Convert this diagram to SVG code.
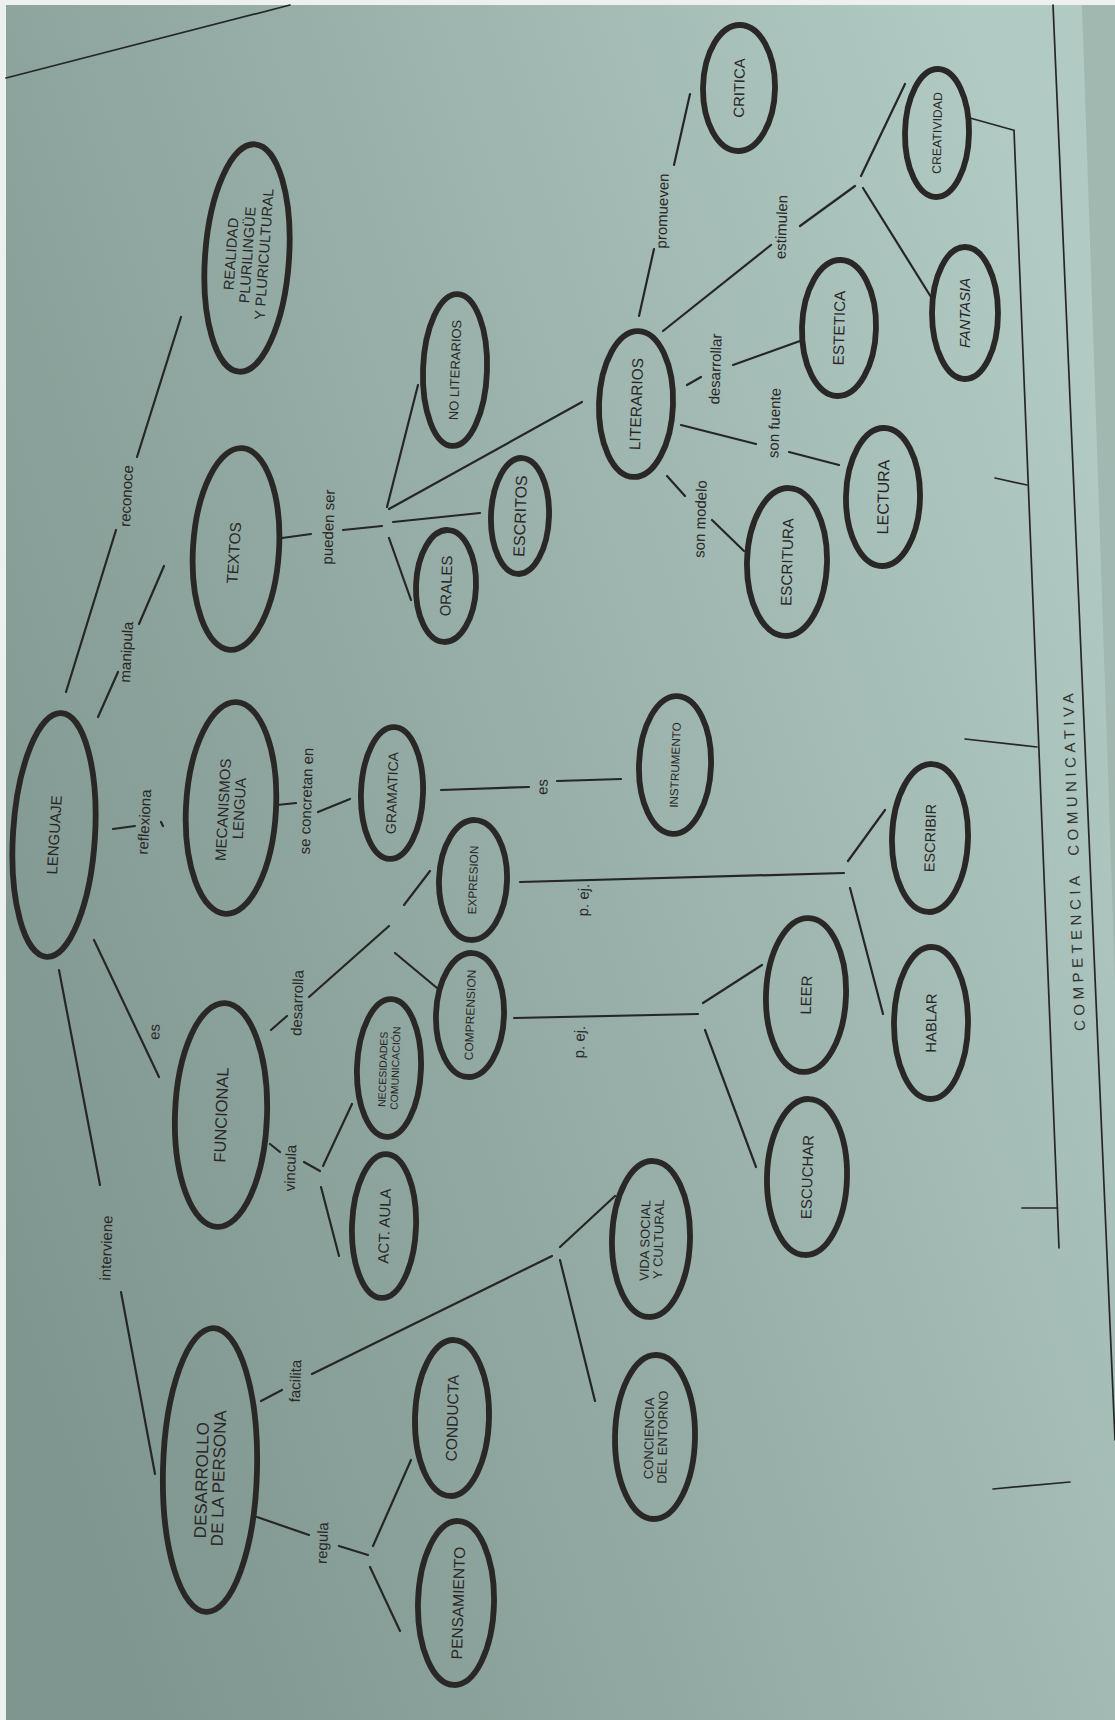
<svg xmlns="http://www.w3.org/2000/svg" width="1115" height="1720" viewBox="0 0 1115 1720">
  <defs>
    <linearGradient id="paper" x1="0" y1="0.75" x2="1" y2="0.25">
      <stop offset="0" stop-color="#7f958f"/>
      <stop offset="0.5" stop-color="#97afa8"/>
      <stop offset="1" stop-color="#b1cac3"/>
    </linearGradient>
    <style>
      .node ellipse { fill: none; stroke: #2a2727; stroke-width: 5.8; }
      .node text { font-family: "Liberation Sans", Arial, sans-serif; fill: #2a2727; text-anchor: middle; }
      .conn path { fill: none; stroke: #272626; stroke-width: 2.2; stroke-linecap: round; }
      .frame path { fill: none; stroke: #272626; stroke-width: 1.7; stroke-linecap: round; }
      .lbl text { font-family: "Liberation Sans", Arial, sans-serif; font-size: 15px; fill: #2a2727; text-anchor: middle; }
    </style>
  </defs>

  <!-- paper -->
  <rect x="0" y="0" width="1115" height="1720" fill="#eef0ef"/>
  <rect x="6" y="5" width="1109" height="1715" fill="url(#paper)"/>
  <polygon points="1082,5 1115,5 1115,980" fill="#9db3ad" opacity="0.8"/>

  <!-- page rules and bracket -->
  <g id="frame" class="frame">
    <path d="M6 78 L290 5"/>
    <path d="M1053 5 L1115 1440"/>
    <path d="M970 118 L1013 130"/>
    <path d="M1014 130 L1059 1248"/>
    <path d="M995 478 L1027 485"/>
    <path d="M965 739 L1037 747"/>
    <path d="M1022 1208 L1057 1208"/>
    <path d="M993 1489 L1070 1482"/>
  </g>

  <!-- connectors -->
  <g id="connectors" class="conn">
    <path d="M66 692 L116 530 M137 457 L181 317"/>
    <path d="M98 717 L118 672 M139 624 L164 566"/>
    <path d="M113 829 L135 826 M161 822 L163 826"/>
    <path d="M94 940 L159 1077"/>
    <path d="M59 970 L100 1185 M121 1292 L155 1474"/>
    <path d="M282 538 L311 534 M343 530 L382 526"/>
    <path d="M387 507 L418 385 M389 509 L582 402 M393 522 L480 513 M389 538 L411 600"/>
    <path d="M277 805 L296 803 M318 812 L350 799"/>
    <path d="M441 790 L529 787 M557 781 L621 779"/>
    <path d="M271 1030 L287 1016 M309 997 L389 926 M404 905 L430 871 M395 953 L437 988"/>
    <path d="M270 1144 L280 1152 M304 1162 L320 1171 M323 1166 L352 1104 M321 1187 L339 1256"/>
    <path d="M520 882 L844 873 M848 861 L885 810 M850 888 L883 1014"/>
    <path d="M514 1018 L698 1014 M703 1003 L762 965 M705 1030 L756 1167"/>
    <path d="M639 316 L654 249 M674 165 L690 94"/>
    <path d="M663 331 L771 245 M800 226 L855 186 M861 176 L905 84 M863 188 L931 297"/>
    <path d="M687 385 L701 377 M733 365 L800 341"/>
    <path d="M681 425 L756 444 M789 452 L839 465"/>
    <path d="M667 476 L685 496 M712 520 L744 551"/>
    <path d="M261 1401 L282 1390 M312 1374 L552 1256 M560 1247 L615 1196 M560 1260 L595 1401"/>
    <path d="M257 1517 L309 1535 M339 1546 L368 1555 M373 1546 L411 1460 M370 1567 L400 1631"/>
  </g>

  <!-- connector labels -->
  <g id="link-labels" class="lbl">
    <text transform="translate(127,496) rotate(-87)" y="4.5">reconoce</text>
    <text transform="translate(127,652) rotate(-87)" y="4.5">manipula</text>
    <text transform="translate(145,822) rotate(-87)" y="4.5">reflexiona</text>
    <text transform="translate(155,1032) rotate(-88)" y="4.5">es</text>
    <text transform="translate(107,1248) rotate(-88)" y="4.5">interviene</text>
    <text transform="translate(329,527) rotate(-88)" y="4.5">pueden ser</text>
    <text transform="translate(307,801) rotate(-88)" y="4.5">se concretan en</text>
    <text transform="translate(298,1003) rotate(-88)" y="4.5">desarrolla</text>
    <text transform="translate(291,1168) rotate(-88)" y="4.5">vincula</text>
    <text transform="translate(543,787) rotate(-88)" y="4.5">es</text>
    <text transform="translate(584,900) rotate(-88)" y="4.5">p. ej.</text>
    <text transform="translate(580,1042) rotate(-88)" y="4.5">p. ej.</text>
    <text transform="translate(663,211) rotate(-88)" y="4.5">promueven</text>
    <text transform="translate(782,227) rotate(-88)" y="4.5">estimulen</text>
    <text transform="translate(716,369) rotate(-88)" y="4.5">desarrollar</text>
    <text transform="translate(775,423) rotate(-88)" y="4.5">son fuente</text>
    <text transform="translate(701,519) rotate(-88)" y="4.5">son modelo</text>
    <text transform="translate(296,1381) rotate(-88)" y="4.5">facilita</text>
    <text transform="translate(323,1543) rotate(-88)" y="4.5">regula</text>
    <text transform="translate(1074,860) rotate(-92)" y="5" style="font-size:15px;letter-spacing:4.5px;word-spacing:8px;fill:#333">COMPETENCIA COMUNICATIVA</text>
  </g>

  <!-- nodes -->
  <g id="n-lenguaje" class="node" transform="translate(54,835) rotate(3.5)">
    <ellipse rx="41" ry="122"/>
    <text transform="rotate(-90)" y="5.4" font-size="15">LENGUAJE</text>
  </g>
  <g id="n-realidad" class="node" transform="translate(247,258) rotate(4)">
    <ellipse rx="42" ry="114"/>
    <text transform="rotate(-90)" font-size="14.5">
      <tspan x="5" y="-11.3">REALIDAD</tspan>
      <tspan x="5" y="5.2">PLURILINGÜE</tspan>
      <tspan x="5" y="21.7">Y PLURICULTURAL</tspan>
    </text>
  </g>
  <g id="n-textos" class="node" transform="translate(236,549) rotate(3.5)">
    <ellipse rx="43" ry="101"/>
    <text transform="rotate(-90)" x="-4" y="3.5" font-size="15.5">TEXTOS</text>
  </g>
  <g id="n-mecanismos" class="node" transform="translate(231,808) rotate(3)">
    <ellipse rx="45" ry="106"/>
    <text transform="rotate(-90)" font-size="15">
      <tspan x="0" y="-2.6">MECANISMOS</tspan>
      <tspan x="0" y="13.4">LENGUA</tspan>
    </text>
  </g>
  <g id="n-funcional" class="node" transform="translate(221,1115) rotate(2)">
    <ellipse rx="46" ry="112"/>
    <text transform="rotate(-90)" y="5.9" font-size="16.5">FUNCIONAL</text>
  </g>
  <g id="n-desarrollo" class="node" transform="translate(210,1470) rotate(1.5)">
    <ellipse rx="47" ry="142"/>
    <text transform="rotate(-90)" font-size="17">
      <tspan x="-8" y="-2.4">DESARROLLO</tspan>
      <tspan x="-8" y="14.6">DE LA PERSONA</tspan>
    </text>
  </g>
  <g id="n-noliterarios" class="node" transform="translate(455,370) rotate(2)">
    <ellipse rx="32" ry="76"/>
    <text transform="rotate(-90)" y="4.6" font-size="13">NO LITERARIOS</text>
  </g>
  <g id="n-escritos" class="node" transform="translate(520,516) rotate(2)">
    <ellipse rx="29" ry="58"/>
    <text transform="rotate(-90)" y="5.7" font-size="16">ESCRITOS</text>
  </g>
  <g id="n-orales" class="node" transform="translate(446,586) rotate(2)">
    <ellipse rx="30" ry="56"/>
    <text transform="rotate(-90)" y="5.4" font-size="15">ORALES</text>
  </g>
  <g id="n-gramatica" class="node" transform="translate(392,793) rotate(2)">
    <ellipse rx="31" ry="66"/>
    <text transform="rotate(-90)" y="5" font-size="14">GRAMATICA</text>
  </g>
  <g id="n-expresion" class="node" transform="translate(473,880) rotate(2)">
    <ellipse rx="34" ry="60"/>
    <text transform="rotate(-90)" y="4.2" font-size="11.8">EXPRESION</text>
  </g>
  <g id="n-comprension" class="node" transform="translate(470,1015) rotate(2)">
    <ellipse rx="34" ry="62"/>
    <text transform="rotate(-90)" y="4.3" font-size="12">COMPRENSION</text>
  </g>
  <g id="n-necesidades" class="node" transform="translate(389,1068) rotate(2)">
    <ellipse rx="32" ry="69"/>
    <text transform="rotate(-90)" font-size="10.5">
      <tspan x="0" y="-2.5">NECESIDADES</tspan>
      <tspan x="0" y="10">COMUNICACIÓN</tspan>
    </text>
  </g>
  <g id="n-actaula" class="node" transform="translate(384,1226) rotate(2)">
    <ellipse rx="32" ry="72"/>
    <text transform="rotate(-90)" y="5.5" font-size="15">ACT. AULA</text>
  </g>
  <g id="n-conducta" class="node" transform="translate(452,1418) rotate(1.5)">
    <ellipse rx="37" ry="78"/>
    <text transform="rotate(-90)" y="5.7" font-size="15.5">CONDUCTA</text>
  </g>
  <g id="n-pensamiento" class="node" transform="translate(456,1603) rotate(1.5)">
    <ellipse rx="38" ry="82"/>
    <text transform="rotate(-90)" y="7.5" font-size="15.5">PENSAMIENTO</text>
  </g>
  <g id="n-vidasocial" class="node" transform="translate(651,1239) rotate(1.5)">
    <ellipse rx="39" ry="78"/>
    <text transform="rotate(-90)" font-size="13">
      <tspan x="0" y="-1.5">VIDA SOCIAL</tspan>
      <tspan x="0" y="12">Y CULTURAL</tspan>
    </text>
  </g>
  <g id="n-conciencia" class="node" transform="translate(655,1437) rotate(1)">
    <ellipse rx="40" ry="82"/>
    <text transform="rotate(-90)" font-size="13">
      <tspan x="0" y="-1.5">CONCIENCIA</tspan>
      <tspan x="0" y="12">DEL ENTORNO</tspan>
    </text>
  </g>
  <g id="n-instrumento" class="node" transform="translate(675,765) rotate(2)">
    <ellipse rx="36" ry="69"/>
    <text transform="rotate(-90)" y="4.2" font-size="11.7">INSTRUMENTO</text>
  </g>
  <g id="n-leer" class="node" transform="translate(806,995) rotate(2)">
    <ellipse rx="40" ry="77"/>
    <text transform="rotate(-90)" y="5.4" font-size="15">LEER</text>
  </g>
  <g id="n-escuchar" class="node" transform="translate(807,1177) rotate(1.5)">
    <ellipse rx="40" ry="78"/>
    <text transform="rotate(-90)" y="5.4" font-size="15">ESCUCHAR</text>
  </g>
  <g id="n-escribir" class="node" transform="translate(930,838) rotate(1.5)">
    <ellipse rx="38" ry="74"/>
    <text transform="rotate(-90)" y="5.2" font-size="14.5">ESCRIBIR</text>
  </g>
  <g id="n-hablar" class="node" transform="translate(931,1023) rotate(0.5)">
    <ellipse rx="37" ry="76"/>
    <text transform="rotate(-90)" y="5.3" font-size="14.8">HABLAR</text>
  </g>
  <g id="n-literarios" class="node" transform="translate(636,404) rotate(2)">
    <ellipse rx="37" ry="73"/>
    <text transform="rotate(-90)" y="5.6" font-size="15.5">LITERARIOS</text>
  </g>
  <g id="n-estetica" class="node" transform="translate(839,328) rotate(1.5)">
    <ellipse rx="37" ry="68"/>
    <text transform="rotate(-90)" y="5.4" font-size="15.3">ESTETICA</text>
  </g>
  <g id="n-lectura" class="node" transform="translate(883,497) rotate(1)">
    <ellipse rx="37" ry="69"/>
    <text transform="rotate(-90)" y="5.7" font-size="16">LECTURA</text>
  </g>
  <g id="n-escritura" class="node" transform="translate(787,562) rotate(1.5)">
    <ellipse rx="40" ry="74"/>
    <text transform="rotate(-90)" y="5.4" font-size="15.2">ESCRITURA</text>
  </g>
  <g id="n-critica" class="node" transform="translate(739,88) rotate(1)">
    <ellipse rx="36" ry="63"/>
    <text transform="rotate(-90)" y="5.3" font-size="14.8">CRITICA</text>
  </g>
  <g id="n-creatividad" class="node" transform="translate(937,133) rotate(1)">
    <ellipse rx="32" ry="64"/>
    <text transform="rotate(-90)" y="4.4" font-size="12.3">CREATIVIDAD</text>
  </g>
  <g id="n-fantasia" class="node" transform="translate(965,313) rotate(0)">
    <ellipse rx="33" ry="66"/>
    <text transform="rotate(-90)" y="5.3" font-size="14.8" font-style="italic">FANTASIA</text>
  </g>
</svg>
